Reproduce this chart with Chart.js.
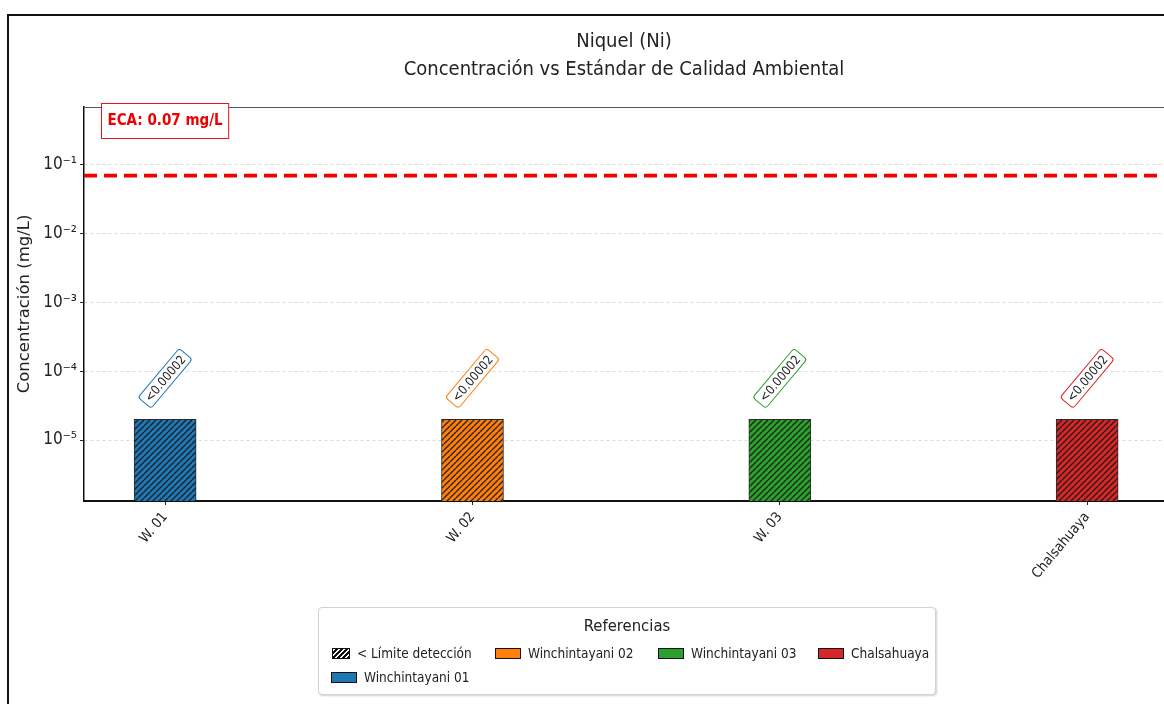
<!DOCTYPE html>
<html lang="es">
<head>
<meta charset="utf-8">
<title>Niquel (Ni)</title>
<script src="https://cdn.jsdelivr.net/npm/chart.js@4.4.1/dist/chart.umd.min.js"></script>
<style>
  html, body { margin: 0; padding: 0; background: #fff; overflow: hidden; }
  #wrap { position: relative; width: 1164px; height: 704px; }
  #frame { position: absolute; left: 7px; top: 14px; width: 1400px; height: 900px;
           border-left: 2px solid #111; border-top: 2px solid #111; pointer-events: none; }
  canvas { position: absolute; left: 0; top: 0; }
  #legend { position: absolute; left: 318px; top: 607px; width: 616px; height: 86px;
            background: #fff; border: 1px solid #d2d2d2; border-radius: 4px;
            box-shadow: 1px 1px 2px rgba(0,0,0,0.18);
            font-family: "DejaVu Sans Condensed", "DejaVu Sans", sans-serif; color: #222; }
  #legend .title { position: absolute; left: 0; right: 0; top: 8px; text-align: center; font-size: 16.5px; }
  #legend .item { position: absolute; font-size: 13.5px; line-height: 15px; white-space: nowrap; }
  #legend .sw { position: absolute; height: 11px; border: 1px solid #111; box-sizing: border-box; }
  #legend .hatch { background: repeating-linear-gradient(-45deg, #111 0 2px, #fff 2px 3.5px); }
</style>
</head>
<body>
<div id="wrap">
  <canvas id="chart" width="1164" height="704"></canvas>
  <div id="frame"></div>
  <div id="legend"></div>
</div>
<script>
// Stations and measured nickel concentrations (mg/L)
const categories = ['W. 01', 'W. 02', 'W. 03', 'Chalsahuaya'];
const stationNames = ['Winchintayani 01', 'Winchintayani 02', 'Winchintayani 03', 'Chalsahuaya'];
const concentrations = [0.00002, 0.00002, 0.00002, 0.00002];
const valueLabels = ['<0.00002', '<0.00002', '<0.00002', '<0.00002'];
const belowDetection = [true, true, true, true];
const barColors = ['#1f77b4', '#ff7f0e', '#2ca02c', '#d62728'];

// Environmental quality standard (ECA)
const ecaLimit = 0.07;

// Log-axis decades shown
const yTickValues = [1e-5, 1e-4, 1e-3, 1e-2, 1e-1];
const yTickLabels = ['10\u207B\u2075', '10\u207B\u2074', '10\u207B\u00B3', '10\u207B\u00B2', '10\u207B\u00B9'];

const X_MIN = -0.264, X_MAX = 3.25;
const FONT = '"DejaVu Sans Condensed", "DejaVu Sans", sans-serif';
Chart.defaults.font.family = FONT;
Chart.defaults.color = '#222';

function hatchPattern(color) {
  const s = 6;
  const c = document.createElement('canvas');
  c.width = s; c.height = s;
  const g = c.getContext('2d');
  g.fillStyle = color;
  g.fillRect(0, 0, s, s);
  g.strokeStyle = 'rgba(25,25,25,0.9)';
  g.lineWidth = 1.4;
  g.beginPath();
  for (const o of [-s, 0, s]) { g.moveTo(o, s); g.lineTo(o + s, 0); }
  g.stroke();
  return g.createPattern(c, 'repeat');
}

const barData = categories.map((c, i) => ({ x: i, y: concentrations[i] }));
const barFills = barColors.map((c, i) => belowDetection[i] ? hatchPattern(c) : c);

// Value annotations above each bar and the ECA caption
const annotations = {
  id: 'annotations',
  afterDatasetsDraw(chart) {
    const ctx = chart.ctx;
    const meta = chart.getDatasetMeta(0);
    ctx.save();
    // top spine
    ctx.strokeStyle = '#555';
    ctx.lineWidth = 1;
    ctx.beginPath();
    ctx.moveTo(chart.chartArea.left, chart.chartArea.top + 0.5);
    ctx.lineTo(chart.chartArea.right, chart.chartArea.top + 0.5);
    ctx.stroke();

    ctx.font = '12.5px ' + FONT;
    ctx.textAlign = 'center';
    ctx.textBaseline = 'middle';
    meta.data.forEach((el, i) => {
      const txt = valueLabels[i];
      const w = ctx.measureText(txt).width;
      const bw = w + 8, bh = 17;
      ctx.save();
      ctx.translate(el.x, el.y - 41);
      ctx.rotate(-50 * Math.PI / 180);
      ctx.beginPath();
      ctx.roundRect(-bw / 2, -bh / 2, bw, bh, 3);
      ctx.fillStyle = '#fff';
      ctx.fill();
      ctx.strokeStyle = barColors[i];
      ctx.lineWidth = 1;
      ctx.stroke();
      ctx.fillStyle = '#222';
      ctx.fillText(txt, 0, 1);
      ctx.restore();
    });

    // ECA caption box
    const cap = 'ECA: ' + ecaLimit + ' mg/L';
    ctx.font = 'bold 15px ' + FONT;
    const cw = ctx.measureText(cap).width;
    const bx = chart.chartArea.left + 17.5, by = chart.chartArea.top - 3.5;
    ctx.fillStyle = '#fff';
    ctx.fillRect(bx, by, cw + 12, 35);
    ctx.strokeStyle = '#e8141a';
    ctx.lineWidth = 1;
    ctx.strokeRect(bx, by, cw + 12, 35);
    ctx.fillStyle = '#ee0000';
    ctx.textAlign = 'left';
    ctx.fillText(cap, bx + 6, by + 18);
    ctx.restore();
  }
};

new Chart(document.getElementById('chart'), {
  data: {
    datasets: [
      {
        type: 'bar',
        data: barData,
        backgroundColor: barFills,
        borderColor: '#2a2a2a',
        borderWidth: 1,
        borderSkipped: 'start',
        barThickness: 62,
        order: 2
      },
      {
        type: 'line',
        data: [{ x: X_MIN, y: ecaLimit }, { x: X_MAX, y: ecaLimit }],
        borderColor: '#f00000',
        borderWidth: 3.8,
        borderDash: [13, 7],
        pointRadius: 0,
        order: 1
      }
    ]
  },
  options: {
    responsive: false,
    animation: false,
    events: [],
    layout: { padding: { left: 0, right: 0, top: 0, bottom: 0 } },
    plugins: {
      legend: { display: false },
      tooltip: { enabled: false },
      title: {
        display: true,
        fullSize: false,
        text: ['Niquel (Ni)', 'Concentración vs Estándar de Calidad Ambiental'],
        font: { size: 20, weight: 'normal', lineHeight: '28px' },
        color: '#222',
        padding: { top: 28, bottom: 23 }
      }
    },
    scales: {
      x: {
        type: 'linear',
        min: X_MIN,
        max: X_MAX,
        offset: false,
        afterBuildTicks(scale) { scale.ticks = categories.map((c, i) => ({ value: i })); },
        afterFit(scale) { scale.height = 203; },
        ticks: {
          autoSkip: false,
          minRotation: 50,
          maxRotation: 50,
          padding: 4,
          font: { size: 14 },
          color: '#222',
          callback: (v) => categories[v]
        },
        grid: { display: true, offset: false, drawOnChartArea: false, drawTicks: true, tickLength: 4, tickColor: '#222', tickWidth: 1 },
        border: { display: true, color: '#111', width: 2 }
      },
      y: {
        type: 'logarithmic',
        min: 1.3e-6,
        max: 0.697,
        afterBuildTicks(scale) { scale.ticks = yTickValues.map(v => ({ value: v, major: true })); },
        afterFit(scale) { scale.width = 84; },
        ticks: {
          autoSkip: false,
          padding: 3,
          font: { size: 17 },
          color: '#222',
          callback: (v) => { const i = yTickValues.findIndex(t => Math.abs(t - v) / t < 1e-6); return i >= 0 ? yTickLabels[i] : ''; }
        },
        grid: { color: '#dcdcdc', lineWidth: 1, tickLength: 4, tickColor: '#222', tickWidth: 1 },
        border: { display: true, color: '#111', width: 1.5, dash: [3, 3] },
        title: {
          display: true,
          text: 'Concentración (mg/L)',
          font: { size: 16.5, family: '"DejaVu Sans", sans-serif' },
          color: '#222',
          padding: { top: 15, bottom: 0 }
        }
      }
    }
  },
  plugins: [annotations]
});

// Legend
const legend = document.getElementById('legend');
const legendItems = [
  { label: '< Límite detección', hatch: true, sw: 13, sww: 18, tx: 38, top: 40 },
  { label: stationNames[1], color: barColors[1], sw: 176, sww: 26, tx: 209, top: 40 },
  { label: stationNames[2], color: barColors[2], sw: 339, sww: 26, tx: 372, top: 40 },
  { label: stationNames[3], color: barColors[3], sw: 499, sww: 26, tx: 532, top: 40 },
  { label: stationNames[0], color: barColors[0], sw: 12, sww: 26, tx: 45, top: 64 }
];
const t = document.createElement('div');
t.className = 'title';
t.textContent = 'Referencias';
legend.appendChild(t);
legendItems.forEach(it => {
  const s = document.createElement('div');
  s.className = 'sw' + (it.hatch ? ' hatch' : '');
  s.style.left = it.sw + 'px';
  s.style.top = (it.top) + 'px';
  s.style.width = it.sww + 'px';
  if (!it.hatch) s.style.background = it.color;
  legend.appendChild(s);
  const l = document.createElement('div');
  l.className = 'item';
  l.style.left = it.tx + 'px';
  l.style.top = (it.top - 2) + 'px';
  l.textContent = it.label;
  legend.appendChild(l);
});
</script>
</body>
</html>
